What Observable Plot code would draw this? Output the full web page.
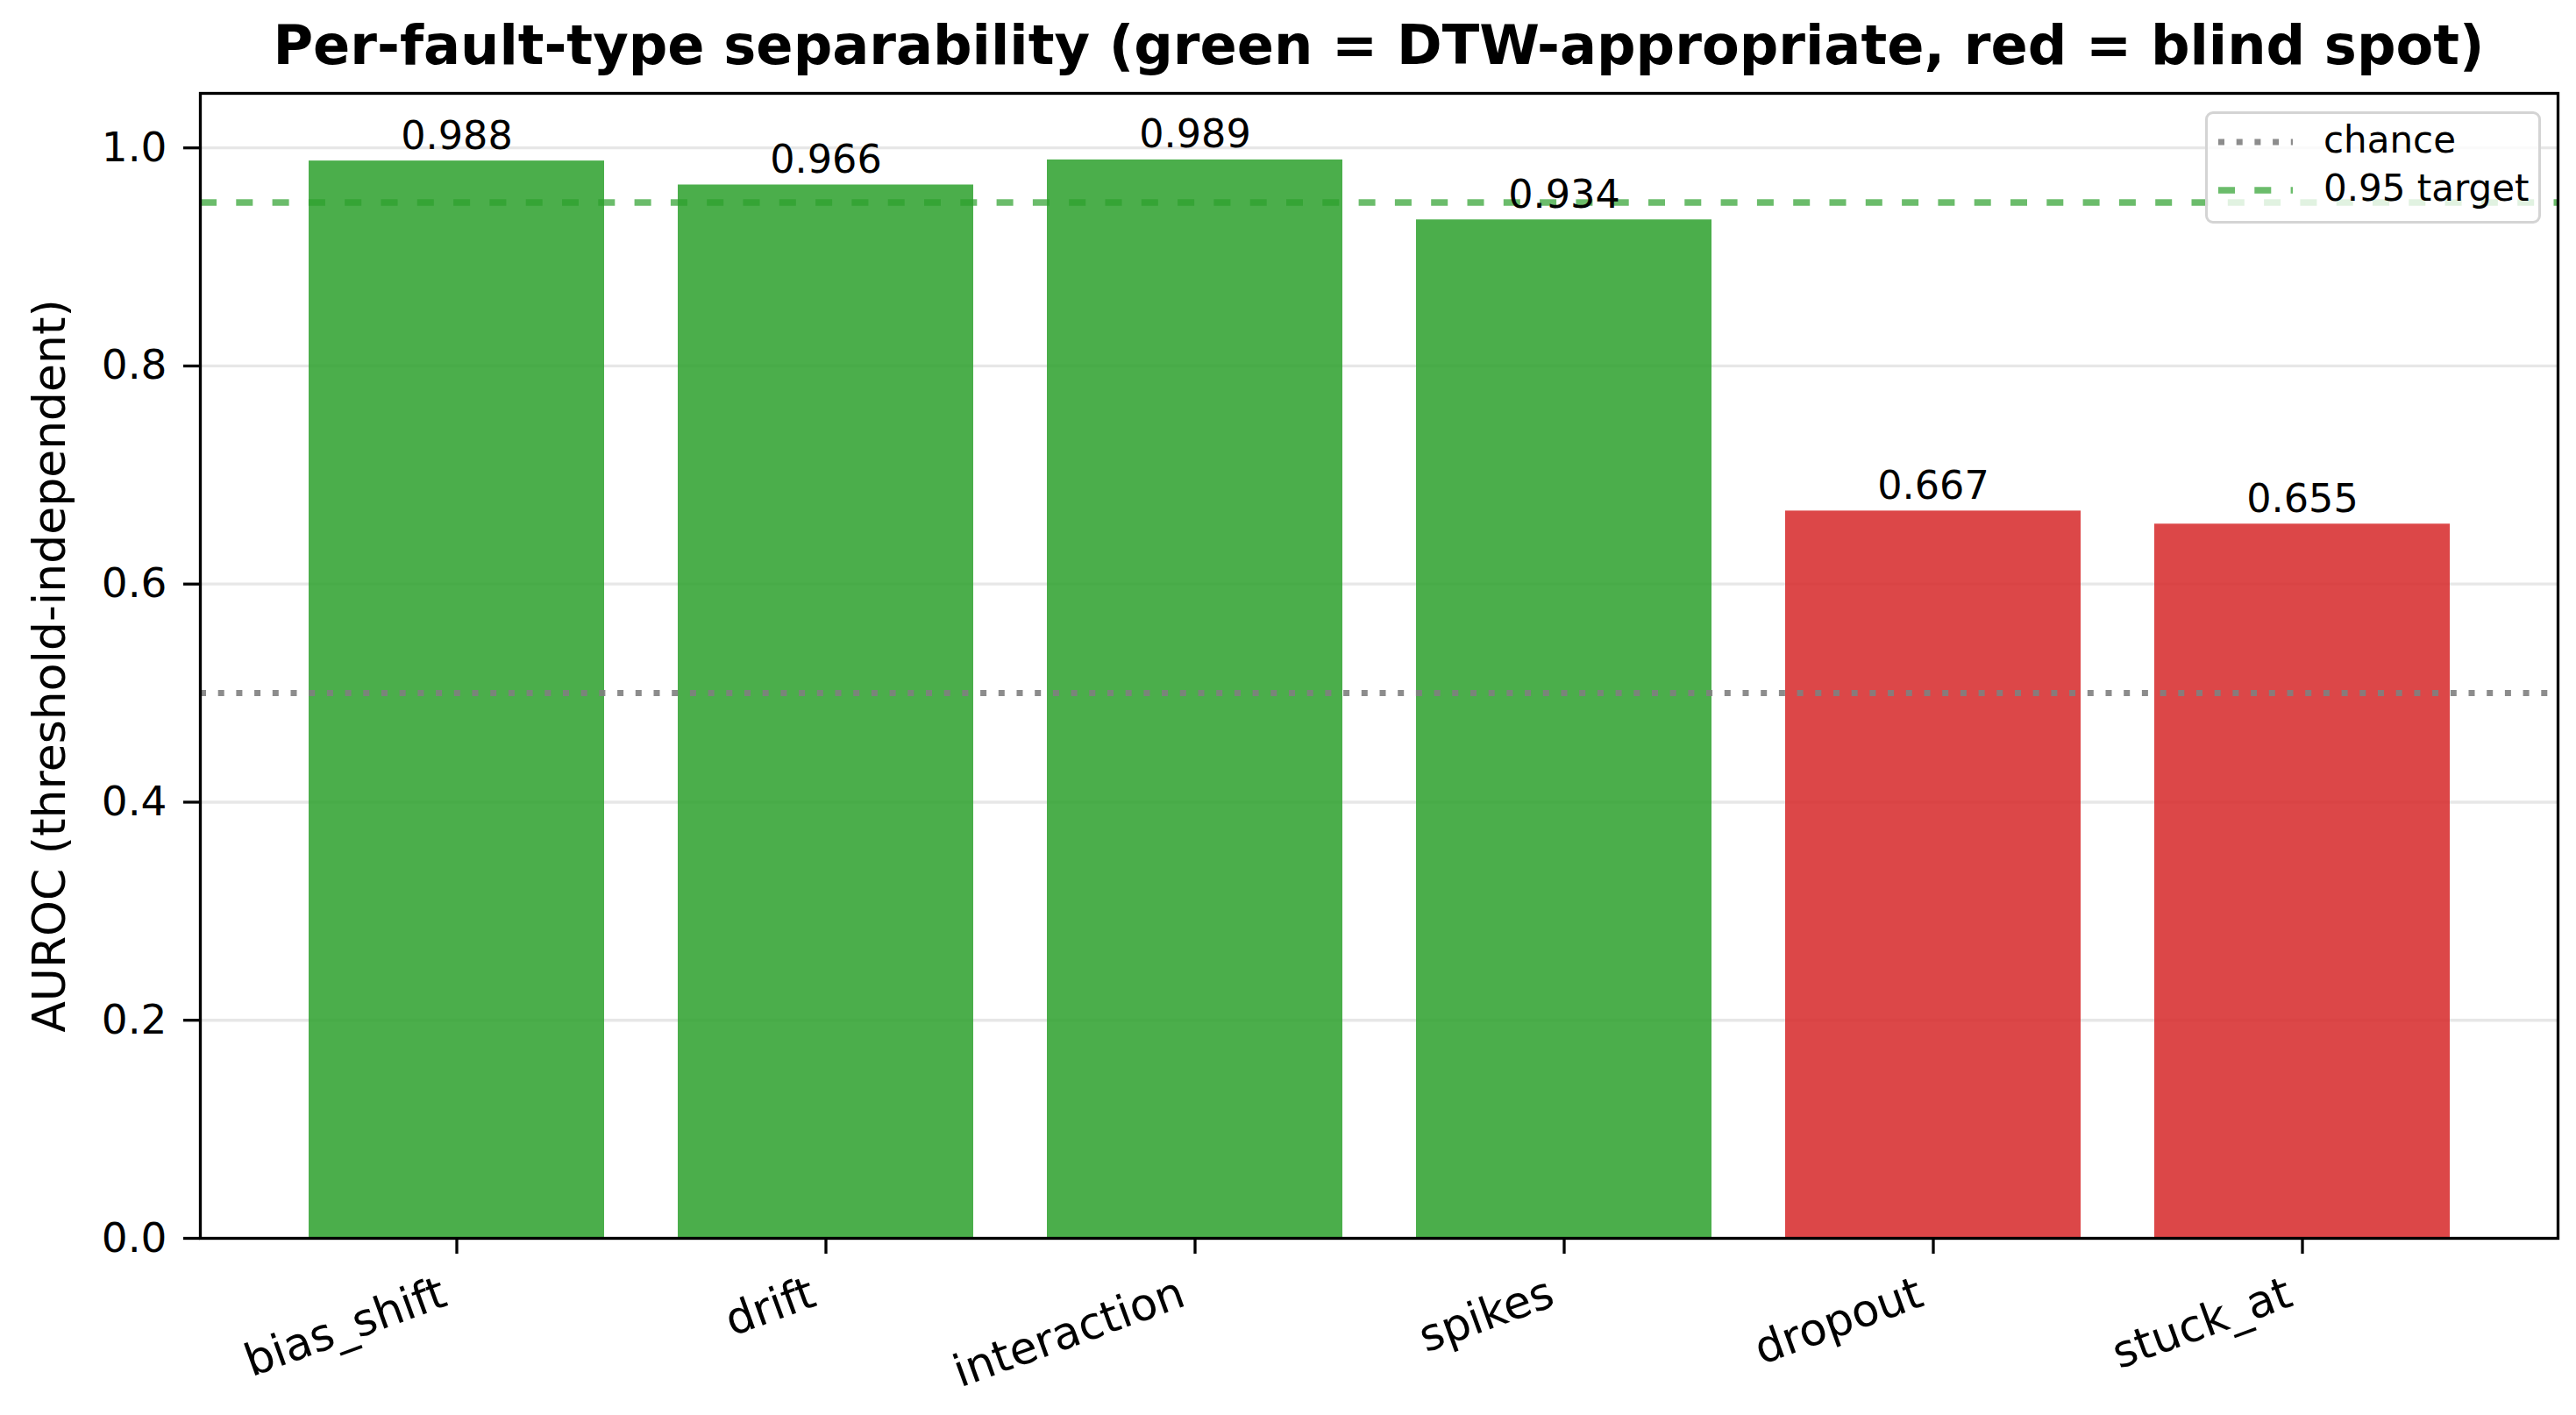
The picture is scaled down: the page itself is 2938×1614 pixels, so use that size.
<!DOCTYPE html>
<html><head><meta charset="utf-8">
<script src="https://cdn.jsdelivr.net/npm/d3@7"></script>
<script src="https://cdn.jsdelivr.net/npm/@observablehq/plot@0.6"></script>
<style>
body{margin:0;background:#fff;font-family:"DejaVu Sans",sans-serif;}
#wrap{position:relative;width:2938px;height:1614px;overflow:hidden;}
#title{box-sizing:border-box;height:96px;padding-top:8px;line-height:88px;padding-left:228px;padding-right:21px;width:2938px;text-align:center;font-weight:bold;font-size:62.3px;white-space:nowrap;color:#000;font-family:"DejaVu Sans",sans-serif;}
#legend{position:absolute;left:2515px;top:127px;width:383px;height:128px;box-sizing:border-box;border:3px solid #d4d4d4;border-radius:9px;background:rgba(255,255,255,0.8);}
#legend svg{position:absolute;left:0;top:0;}
</style></head><body>
<div id="wrap"><div id="title"></div><div id="chart"></div><div id="legend"></div></div>
<script>
const categories = ["bias_shift", "drift", "interaction", "spikes", "dropout", "stuck_at"];
const values = [0.988, 0.966, 0.989, 0.934, 0.667, 0.655];
const groups = ["DTW-appropriate", "DTW-appropriate", "DTW-appropriate", "DTW-appropriate", "blind spot", "blind spot"];
const groupNames = ["DTW-appropriate", "blind spot"];
const groupColors = ["#2ca02c", "#d62728"];
const yTicks = [0, 0.2, 0.4, 0.6, 0.8, 1.0];
const refValues = [0.5, 0.95];
const refLabels = ["chance", "0.95 target"];
const titleText = "Per-fault-type separability (green = DTW-appropriate, red = blind spot)";
const yLabel = "AUROC (threshold-independent)";

const data = categories.map((c, i) => ({name: c, value: values[i], group: groups[i]}));

document.getElementById("title").textContent = titleText;

const chart = Plot.plot({
  width: 2938,
  height: 1518,
  marginLeft: 228,
  marginRight: 21,
  marginTop: 10,
  marginBottom: 202,
  style: {fontFamily: "DejaVu Sans, sans-serif", background: "#fff", color: "#000"},
  x: {type: "band", domain: categories, paddingInner: 0.2, paddingOuter: 0.29, align: 0.5},
  y: {domain: [0, 1.05]},
  color: {domain: groupNames, range: groupColors},
  marks: [
    Plot.gridY(yTicks, {stroke: "#b0b0b0", strokeOpacity: 0.3, strokeWidth: 3.3}),
    Plot.barY(data, {x: "name", y: "value", fill: "group", fillOpacity: 0.85}),
    Plot.ruleY([refValues[0]], {stroke: "gray", strokeOpacity: 0.9, strokeWidth: 7, strokeDasharray: "7,13.7"}),
    Plot.ruleY([refValues[1]], {stroke: "#2ca02c", strokeOpacity: 0.7, strokeWidth: 7.5, strokeDasharray: "19,22.3"}),
    Plot.text(data, {x: "name", y: "value", text: d => d3.format(".3f")(d.value), lineAnchor: "bottom", dy: -14, fontSize: 44.5, fill: "#000"}),
    Plot.axisY(yTicks, {tickFormat: d3.format(".1f"), tickSize: 19, tickPadding: 19, fontSize: 47, strokeWidth: 3.3, label: null}),
    Plot.text([yLabel], {frameAnchor: "left", rotate: -90, lineAnchor: "bottom", textAnchor: "middle", dx: -155, fontSize: 52, fill: "#000"}),
    Plot.axisX({tickSize: 18, strokeWidth: 3.3, tickFormat: () => "", label: null}),
    Plot.text(categories, {x: d => d, frameAnchor: "bottom", rotate: -20, textAnchor: "end", lineAnchor: "top", dx: -21, dy: 42, fontSize: 51, fill: "#000"}),
    Plot.frame({stroke: "#000", strokeWidth: 3.3})
  ]
});
document.getElementById("chart").appendChild(chart);

// legend
const lg = d3.select("#legend").append("svg").attr("width", 377).attr("height", 122)
  .style("font-family", "DejaVu Sans, sans-serif");
const legendStyles = [
  {stroke: "gray", opacity: 0.9, width: 7, dash: "7,13.7"},
  {stroke: "#2ca02c", opacity: 0.7, width: 7.5, dash: "19,22.3"}
];
const rowY = [32, 87];
refLabels.forEach((lab, i) => {
  const s = legendStyles[i];
  lg.append("line").attr("x1", 12).attr("x2", 97).attr("y1", rowY[i]).attr("y2", rowY[i])
    .attr("stroke", s.stroke).attr("stroke-opacity", s.opacity).attr("stroke-width", s.width)
    .attr("stroke-dasharray", s.dash);
  lg.append("text").attr("x", 132).attr("y", rowY[i] + 12).attr("font-size", 42).attr("fill", "#000").text(lab);
});
</script>
</body></html>
